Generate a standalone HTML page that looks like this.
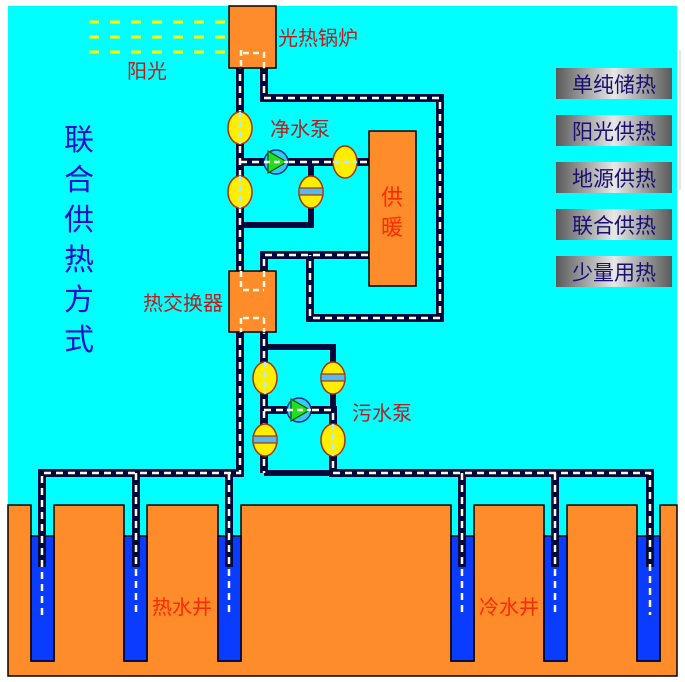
<!DOCTYPE html>
<html><head><meta charset="utf-8"><style>
html,body{margin:0;padding:0;background:#fff;width:685px;height:682px;overflow:hidden}
svg{display:block}
text{font-family:"Liberation Sans","Noto Sans CJK SC",sans-serif}
</style></head><body>
<svg width="685" height="682" viewBox="0 0 685 682" xmlns="http://www.w3.org/2000/svg">
<defs>
<linearGradient id="btn" x1="0" x2="1" y1="0" y2="0">
<stop offset="0" stop-color="#5a5a5a"/><stop offset="0.5" stop-color="#e8e8e8"/><stop offset="1" stop-color="#5a5a5a"/>
</linearGradient>
</defs>
<rect x="8" y="6" width="669" height="670" fill="#00ffff"/>
<line x1="680" y1="50" x2="680" y2="190" stroke="#ccc" stroke-width="1"/>
<path d="M8 505 H31 V661 H54 V505 H124 V661 H147 V505 H218 V661 H241 V505 H451 V661 H474 V505 H544 V661 H567 V505 H637 V661 H660 V505 H677 V676 H8 Z" fill="#ff8c2a" stroke="#000" stroke-width="1.5"/>
<g fill="#0a3cff" stroke="#000" stroke-width="1.5">
<rect x="31" y="536" width="23" height="125"/><rect x="124" y="536" width="23" height="125"/><rect x="218" y="536" width="23" height="125"/>
<rect x="451" y="536" width="23" height="125"/><rect x="544" y="536" width="23" height="125"/><rect x="637" y="536" width="23" height="125"/>
</g>
<g stroke="#ffff00" stroke-width="3" stroke-dasharray="10,11">
<line x1="89" y1="22" x2="228" y2="22"/><line x1="89" y1="37" x2="228" y2="37"/><line x1="89" y1="52" x2="228" y2="52"/>
</g>
<g fill="none" stroke="#000a3a" stroke-width="6">
<polyline points="311,162 311,225 240,225"/>
<polyline points="264,347 333,347 333,410"/>
<polyline points="264,473 333,473"/>
</g>
<g fill="none" stroke-linejoin="miter">
<g stroke="#000a3a" stroke-width="8">
<polyline points="240,68 240,473 42,473 42,567"/>
<polyline points="136,473 136,567"/><polyline points="229,473 229,567"/>
<polyline points="264,68 264,98 440,98 440,318 310,318 310,255"/>
<polyline points="264,271 264,255 369,255"/>
<polyline points="240,162 369,162"/>
<polyline points="264,332 264,473"/>
<polyline points="264,410 333,410 333,473 650,473 650,567"/>
<polyline points="462,473 462,567"/><polyline points="555,473 555,567"/>
</g>
<g stroke="#fff8e0" stroke-width="2.5" stroke-dasharray="7,5">
<polyline points="240,50 240,473 42,473 42,615"/>
<polyline points="136,473 136,615"/><polyline points="229,473 229,615"/>
<polyline points="264,50 264,98 440,98 440,318 310,318 310,255"/>
<polyline points="264,290 264,255 369,255"/>
<polyline points="240,162 369,162"/>
<polyline points="264,315 264,473"/>
<polyline points="264,410 333,410 333,473 650,473 650,615"/>
<polyline points="462,473 462,615"/><polyline points="555,473 555,615"/>
</g>
</g>
<rect x="229" y="6" width="47" height="62" fill="#ff8c2a" stroke="#000" stroke-width="1.5"/>
<path d="M241 50 V70 M243 53 H264 V70" fill="none" stroke="#fff8e0" stroke-width="2.5" stroke-dasharray="6,4"/>
<rect x="229" y="271" width="47" height="61" fill="#ff8c2a" stroke="#000" stroke-width="1.5"/>
<path d="M241 271 V290 M243 290 H264 M243 318 H264 M241 318 V332 M264 318 V332 M264 271 V290" fill="none" stroke="#fff8e0" stroke-width="2.5" stroke-dasharray="6,4"/>
<rect x="369" y="131" width="47" height="155" fill="#ff8c2a" stroke="#000" stroke-width="1.5"/>
<g stroke="#b03000" stroke-width="1.5" fill="#ffee00">
<ellipse cx="240" cy="128" rx="12" ry="16"/>
<ellipse cx="240" cy="192" rx="12" ry="16"/>
<ellipse cx="345" cy="162" rx="12" ry="16"/>
<ellipse cx="311" cy="192" rx="12" ry="16"/>
<ellipse cx="265" cy="378" rx="12" ry="16"/>
<ellipse cx="333" cy="378" rx="12" ry="16"/>
<ellipse cx="265" cy="440" rx="12" ry="16"/>
<ellipse cx="333" cy="440" rx="12" ry="16"/>
</g>
<g stroke="#b03000" stroke-width="1.2" fill="#55bbee">
<rect x="299" y="188" width="24" height="7"/>
<rect x="321" y="374" width="24" height="7"/>
<rect x="253" y="436" width="24" height="7"/>
</g>
<g stroke="#aaeeff" stroke-width="2.5" stroke-dasharray="6,4">
<line x1="240" y1="112" x2="240" y2="144"/><line x1="240" y1="176" x2="240" y2="208"/>
<line x1="333" y1="162" x2="357" y2="162"/>
<line x1="265" y1="362" x2="265" y2="394"/><line x1="333" y1="424" x2="333" y2="456"/>
</g>
<g>
<circle cx="276" cy="162" r="12" fill="#33ccee" stroke="#003388" stroke-width="1.5"/>
<polygon points="268,151 268,173 287,162" fill="#22dd22" stroke="#005500" stroke-width="1.2"/>
<line x1="264" y1="162" x2="288" y2="162" stroke="#fff8e0" stroke-width="2.5" stroke-dasharray="6,4"/>
<circle cx="299" cy="410" r="12" fill="#33ccee" stroke="#003388" stroke-width="1.5"/>
<polygon points="291,399 291,421 310,410" fill="#22dd22" stroke="#005500" stroke-width="1.2"/>
<line x1="287" y1="410" x2="311" y2="410" stroke="#fff8e0" stroke-width="2.5" stroke-dasharray="6,4"/>
</g>
<g fill="#b42020" font-size="20">
<text x="278" y="45">光热锅炉</text>
<text x="127" y="78">阳光</text>
<text x="270" y="136">净水泵</text>
<text x="143" y="310">热交换器</text>
<text x="352" y="420">污水泵</text>
</g>
<g fill="#ff2a00" font-size="20">
<text x="152" y="614">热水井</text>
<text x="479" y="614">冷水井</text>
</g>
<g fill="#ff2a00" font-size="22">
<text x="381" y="205">供</text>
<text x="381" y="235">暖</text>
</g>
<g fill="#1a10d0" font-size="30">
<text x="64" y="150">联</text><text x="64" y="190">合</text><text x="64" y="230">供</text>
<text x="64" y="270">热</text><text x="64" y="310">方</text><text x="64" y="350">式</text>
</g>
<g>
<rect x="556" y="68" width="116" height="31" fill="url(#btn)"/>
<rect x="556" y="115" width="116" height="31" fill="url(#btn)"/>
<rect x="556" y="162" width="116" height="31" fill="url(#btn)"/>
<rect x="556" y="209" width="116" height="31" fill="url(#btn)"/>
<rect x="556" y="256" width="116" height="31" fill="url(#btn)"/>
</g>
<g fill="#1a1070" font-size="21" text-anchor="middle">
<text x="614" y="92">单纯储热</text>
<text x="614" y="139">阳光供热</text>
<text x="614" y="186">地源供热</text>
<text x="614" y="233">联合供热</text>
<text x="614" y="280">少量用热</text>
</g>
</svg>
</body></html>
